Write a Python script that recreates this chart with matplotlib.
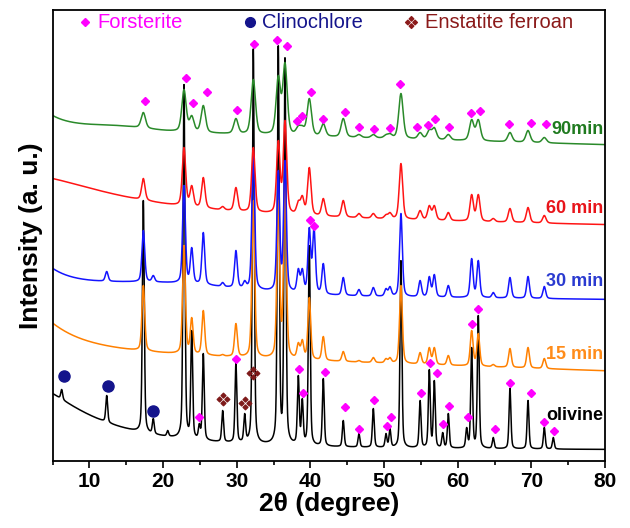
import numpy as np
import matplotlib
matplotlib.use('Agg')
import matplotlib.pyplot as plt
from matplotlib.path import Path
from matplotlib.ticker import MultipleLocator

plt.rcParams['font.family'] = ['Liberation Sans', 'DejaVu Sans']

# reflection positions (2theta, degree)
peak_pos = [6.25, 12.36, 17.33, 18.68, 20.64, 22.85, 23.9, 24.93, 25.47, 28.1,
            29.9, 31.09, 32.26, 35.65, 36.56, 38.37, 38.91, 39.86, 40.5, 41.76,
            44.47, 46.6, 48.55, 50.27, 50.81, 52.3, 54.9, 56.15, 56.83, 57.97,
            58.73, 61.22, 61.9, 62.8, 64.83, 67.1, 69.55, 71.76, 72.98]
n = np.nan
# apex of each reflection on the stacked intensity scale (nan = not seen)
top_olivine = [71, 65, 260, 42, 30, 376, 130, 37, 107, 50,
               97, 47, 412, 415, 403, 85, 62, 215, n, 82,
               40, 27, 52, 27, 32, 200, 60, 91, 80, 28,
               47, 33, 113, 145, 23, 72, 60, 33, 23]
top_15 = [n, n, 175, n, n, 215, 143, n, 150, 106,
          137, n, 260, 260, 280, 118, 121, 163, n, 124,
          109, 100, 103, 102, 103, 175, 108, 113, 113, n,
          105, n, 130, 127, 96, 112, 113, 102, n]
top_30 = [n, 189, 230, 185, n, 275, 213, n, 228, 178,
          210, 180, 310, 290, 300, 192, 192, 233, 233, 197,
          183, 171, 173, 172, 174, 247, 180, 184, 186, n,
          175, n, 202, 200, 168, 183, 184, 174, n]
top_60 = [n, n, 282, n, n, 313, 275, n, 283, 254,
          273, n, 313, 320, 340, 260, 265, 293, n, 262,
          260, 247, 247, 246, 248, 297, 250, 255, 255, n,
          248, n, 266, 266, 242, 252, 253, 245, n]
top_90 = [n, n, 348, n, n, 371, 345, n, 355, n,
          342, n, 381, 385, 398, 335, 335, 362, n, 337,
          342, 326, 326, 326, 327, 367, 328, 331, 333, n,
          326, n, 341, 341, n, 328, 330, 323, n]

# background: level at 80 deg, slope, low-angle tail at 5 deg, tail width, hump centre/width/height
bg_olivine = [10, 0.0, 57, 10, 20, 10, 0]
bg_15 = [89.5, 0.24, 30, 5.5, 20, 10, 0]
bg_30 = [161, 0.08, 22, 4, 20, 10, 10]
bg_60 = [234.5, 0.12, 38.5, 15, 20, 10, 0]
bg_90 = [315.8, 0.2, 14, 3, 14, 4, 3.5]

# peak full width at half maximum (degree) of each pattern
fwhm_olivine, fwhm_15, fwhm_30, fwhm_60, fwhm_90 = 0.3, 0.45, 0.45, 0.55, 0.7

labels = ['olivine', '15 min', '30 min', '60 min', '90min']
label_y = [45.5, 106, 179.5, 252, 331]
line_colors = ['black', '#ff8000', '#1414ff', '#ff1414', '#2a8a2a']
text_colors = ['black', '#ff8c1a', '#2a3ad0', '#e8141a', '#1f7a1f']

# phase markers (2theta, height)
fo_x = [17.56, 23.12, 24.03, 26.01, 30.09, 32.39, 35.43, 36.79, 38.15, 38.83, 40.09,
        41.68, 44.7, 46.65, 48.68, 50.81, 52.17, 54.52, 56.01, 56.92, 58.86, 61.81,
        63.03, 66.97, 69.91, 71.99,
        39.95, 40.5,
        24.93, 29.91, 38.42, 38.94, 41.99, 44.71, 46.6, 48.6, 50.37, 50.91, 54.98,
        56.24, 57.23, 57.97, 58.82, 61.36, 61.98, 62.8, 65.07, 67.1, 69.95, 71.76, 73.07]
fo_y = [359.8, 382.8, 357.8, 368.8, 350.5, 416.5, 420.5, 414.5, 339.8, 344.5, 368.2,
        341.5, 348.2, 333.2, 331.2, 332.8, 376.5, 333.8, 335.5, 341.5, 333.2, 347.8,
        349.2, 336.5, 337.8, 336.5,
        240.5, 234.5,
        43.8, 101.8, 91.2, 67.2, 88.8, 53.2, 31.2, 60.5, 34.8, 43.8, 67.8,
        97.2, 87.2, 36.5, 54.8, 43.8, 136.2, 151.2, 31.2, 77.8, 67.8, 38.8, 29.5]
cl_x = [6.56, 12.57, 18.68]
cl_y = [84.5, 74.5, 49.8]
en_x = [28.1, 31.09, 32.26]
en_y = [61.2, 57.2, 87.2]

legend_names = ['Forsterite', 'Clinochlore', 'Enstatite ferroan']
legend_colors = ['#ff00ff', '#14148c', '#8b1a1a']


def pv(x, c, w, eta=0.4):
    d = (x - c) / w
    return eta / (1 + 4 * d ** 2) + (1 - eta) * np.exp(-4 * np.log(2) * d ** 2)


def background(x, p):
    base, slope, tail5, gam, hc, hs, ha = p
    return (base + slope * (80 - x) + tail5 * (25 + gam ** 2) / (x ** 2 + gam ** 2)
            + ha * np.exp(-(x - hc) ** 2 / (2 * hs ** 2)))


tt = np.linspace(5, 80, 6000)


def trace(tops, bg, w):
    pos = np.array(peak_pos)
    tops = np.array(tops, float)
    keep = ~np.isnan(tops)
    c = pos[keep]
    h = tops[keep] - background(c, bg)
    M = pv(c[:, None], c[None, :], w)
    amp = np.clip(np.linalg.solve(M, h), 0, None)
    return background(tt, bg) + (amp[None, :] * pv(tt[:, None], c[None, :], w)).sum(1)


curves = [trace(top_olivine, bg_olivine, fwhm_olivine),
          trace(top_15, bg_15, fwhm_15),
          trace(top_30, bg_30, fwhm_30),
          trace(top_60, bg_60, fwhm_60),
          trace(top_90, bg_90, fwhm_90)]

# enstatite symbol: four small diamonds in a cross
verts, codes = [], []
for cx, cy in [(0, 1), (1, 0), (0, -1), (-1, 0)]:
    r = 0.62
    verts += [(cx, cy + r), (cx + r, cy), (cx, cy - r), (cx - r, cy), (cx, cy + r)]
    codes += [Path.MOVETO, Path.LINETO, Path.LINETO, Path.LINETO, Path.CLOSEPOLY]
ens_marker = Path(verts, codes)

fig = plt.figure(figsize=(6.3, 5.28), dpi=100)
ax = fig.add_axes([52.5 / 630, 1 - 460.5 / 528, 552.5 / 630, 450.5 / 528])

for yv, col in zip(curves, line_colors):
    ax.plot(tt, yv, color=col, lw=1.1)
for lab, ly, col in zip(labels, label_y, text_colors):
    ax.text(79.8, ly, lab, ha='right', va='center', color=col, fontsize=13, fontweight='bold')

ax.plot(fo_x, fo_y, ls='none', marker='D', color='#ff00ff', ms=4.3, zorder=5)
ax.plot(cl_x, cl_y, ls='none', marker='o', color='#14148c', ms=8, zorder=5)
ax.plot(en_x, en_y, ls='none', marker=ens_marker, color='#7e1a1a', ms=9, zorder=5)

# legend row along the top of the frame
mk_x = [0.0588, 0.3575, 0.648]
txt_x = [0.0805, 0.379, 0.674]
mk_style = [dict(marker='D', ms=4.3), dict(marker='o', ms=7), dict(marker=ens_marker, ms=8.5)]
for name, col, mx, tx, st in zip(legend_names, legend_colors, mk_x, txt_x, mk_style):
    ax.plot([mx], [0.973], ls='none', color=col, transform=ax.transAxes, clip_on=False, **st)
    ax.text(tx, 0.973, name, color=col, fontsize=14.5, ha='left', va='center',
            transform=ax.transAxes)

ax.set_xlim(5, 80)
ax.set_ylim(0, 450.5)
ax.set_xticks(range(10, 81, 10))
ax.xaxis.set_minor_locator(MultipleLocator(5))
ax.set_yticks([])
ax.tick_params(axis='x', which='major', direction='out', length=5, width=1.2, labelsize=15, pad=3)
ax.tick_params(axis='x', which='minor', direction='out', length=3, width=1.2)
for t in ax.get_xticklabels():
    t.set_fontweight('bold')
for s in ax.spines.values():
    s.set_linewidth(1.3)
ax.set_xlabel('2θ (degree)', fontsize=19, fontweight='bold', labelpad=1)
ax.set_ylabel('Intensity (a. u.)', fontsize=19, fontweight='bold', labelpad=7)

fig.savefig('out.png', dpi=100)
